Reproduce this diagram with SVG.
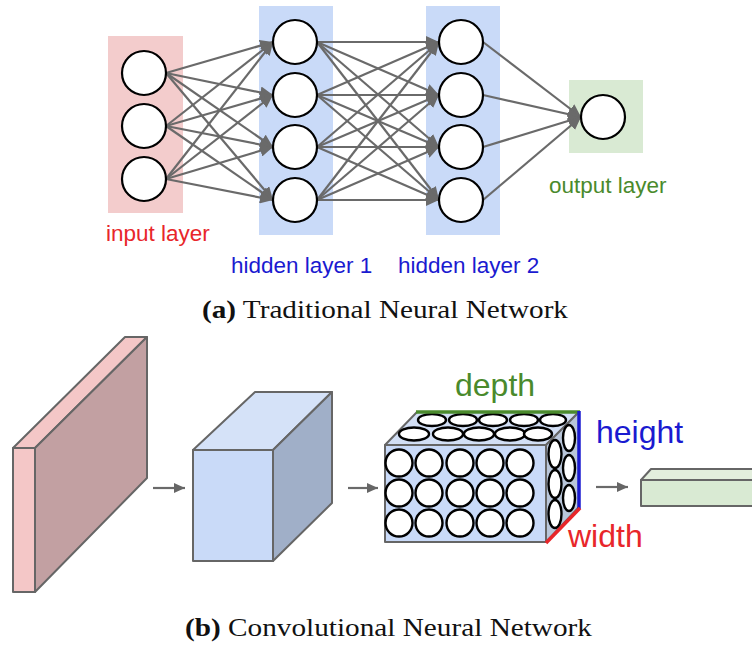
<svg xmlns="http://www.w3.org/2000/svg" width="752" height="652" viewBox="0 0 752 652">
<defs>
<style>
.n{fill:#fff;stroke:#000;stroke-width:2.2}
.e{stroke:#6a6a6a;stroke-width:2.2;fill:none}
.lbl{font-family:"Liberation Sans",Arial,sans-serif;font-size:22.5px}
.big{font-family:"Liberation Sans",Arial,sans-serif;font-size:32px}
.cap{font-family:"Liberation Serif","Times New Roman",serif;font-size:25px;fill:#111}
.box{stroke:#666;stroke-width:2;stroke-linejoin:round}
.c{fill:#fff;stroke:#000;stroke-width:2.4}
</style>
<marker id="ah" markerUnits="userSpaceOnUse" markerWidth="14" markerHeight="12" refX="13" refY="6" orient="auto">
<path d="M0,0 L13,6 L0,12 z" fill="#6a6a6a"/>
</marker>
<marker id="ah2" markerUnits="userSpaceOnUse" markerWidth="12" markerHeight="12" refX="11" refY="5" orient="auto">
<path d="M0,0 L11,5 L0,10 z" fill="#666"/>
</marker>
</defs>
<rect width="752" height="652" fill="#fff"/>

<g id="layer-backgrounds">
<rect id="input-bg" x="108" y="36" width="75" height="177" fill="#f3cccc"/>
<rect id="hidden1-bg" x="259" y="6" width="74" height="229" fill="#c9daf8"/>
<rect id="hidden2-bg" x="426" y="6" width="74" height="229" fill="#c9daf8"/>
<rect id="output-bg" x="569" y="80" width="74" height="73" fill="#d9ead3"/>
</g>

<g id="connectors">
<line class="e" x1="166" y1="73" x2="273" y2="42" marker-end="url(#ah)"/>
<line class="e" x1="166" y1="73" x2="273" y2="95" marker-end="url(#ah)"/>
<line class="e" x1="166" y1="73" x2="273" y2="147" marker-end="url(#ah)"/>
<line class="e" x1="166" y1="73" x2="273" y2="200" marker-end="url(#ah)"/>
<line class="e" x1="166" y1="126" x2="273" y2="42" marker-end="url(#ah)"/>
<line class="e" x1="166" y1="126" x2="273" y2="95" marker-end="url(#ah)"/>
<line class="e" x1="166" y1="126" x2="273" y2="147" marker-end="url(#ah)"/>
<line class="e" x1="166" y1="126" x2="273" y2="200" marker-end="url(#ah)"/>
<line class="e" x1="166" y1="179" x2="273" y2="42" marker-end="url(#ah)"/>
<line class="e" x1="166" y1="179" x2="273" y2="95" marker-end="url(#ah)"/>
<line class="e" x1="166" y1="179" x2="273" y2="147" marker-end="url(#ah)"/>
<line class="e" x1="166" y1="179" x2="273" y2="200" marker-end="url(#ah)"/>

<line class="e" x1="317" y1="42" x2="439" y2="42" marker-end="url(#ah)"/>
<line class="e" x1="317" y1="42" x2="439" y2="95" marker-end="url(#ah)"/>
<line class="e" x1="317" y1="42" x2="439" y2="147" marker-end="url(#ah)"/>
<line class="e" x1="317" y1="42" x2="439" y2="200" marker-end="url(#ah)"/>
<line class="e" x1="317" y1="95" x2="439" y2="42" marker-end="url(#ah)"/>
<line class="e" x1="317" y1="95" x2="439" y2="95" marker-end="url(#ah)"/>
<line class="e" x1="317" y1="95" x2="439" y2="147" marker-end="url(#ah)"/>
<line class="e" x1="317" y1="95" x2="439" y2="200" marker-end="url(#ah)"/>
<line class="e" x1="317" y1="147" x2="439" y2="42" marker-end="url(#ah)"/>
<line class="e" x1="317" y1="147" x2="439" y2="95" marker-end="url(#ah)"/>
<line class="e" x1="317" y1="147" x2="439" y2="147" marker-end="url(#ah)"/>
<line class="e" x1="317" y1="147" x2="439" y2="200" marker-end="url(#ah)"/>
<line class="e" x1="317" y1="200" x2="439" y2="42" marker-end="url(#ah)"/>
<line class="e" x1="317" y1="200" x2="439" y2="95" marker-end="url(#ah)"/>
<line class="e" x1="317" y1="200" x2="439" y2="147" marker-end="url(#ah)"/>
<line class="e" x1="317" y1="200" x2="439" y2="200" marker-end="url(#ah)"/>

<line class="e" x1="483" y1="42" x2="581" y2="117" marker-end="url(#ah)"/>
<line class="e" x1="483" y1="95" x2="581" y2="117" marker-end="url(#ah)"/>
<line class="e" x1="483" y1="147" x2="581" y2="117" marker-end="url(#ah)"/>
<line class="e" x1="483" y1="200" x2="581" y2="117" marker-end="url(#ah)"/>

<line class="e" x1="153" y1="488" x2="185" y2="488" marker-end="url(#ah2)"/>
<line class="e" x1="348" y1="488" x2="378" y2="488" marker-end="url(#ah2)"/>
<line class="e" x1="596" y1="487" x2="628" y2="487" marker-end="url(#ah2)"/>
</g>

<g id="input-layer">
<circle class="n" cx="144" cy="73" r="22"/>
<circle class="n" cx="144" cy="126" r="22"/>
<circle class="n" cx="144" cy="179" r="22"/>
<text class="lbl" x="106" y="241" fill="#e8262a">input layer</text>
</g>
<g id="hidden-layer-1">
<circle class="n" cx="295" cy="42" r="22"/>
<circle class="n" cx="295" cy="95" r="22"/>
<circle class="n" cx="295" cy="147" r="22"/>
<circle class="n" cx="295" cy="200" r="22"/>
<text class="lbl" x="231" y="273" fill="#1a1ad0">hidden layer 1</text>
</g>
<g id="hidden-layer-2">
<circle class="n" cx="461" cy="42" r="22"/>
<circle class="n" cx="461" cy="95" r="22"/>
<circle class="n" cx="461" cy="147" r="22"/>
<circle class="n" cx="461" cy="200" r="22"/>
<text class="lbl" x="398" y="273" fill="#1a1ad0">hidden layer 2</text>
</g>
<g id="output-layer">
<circle class="n" cx="603" cy="117" r="22"/>
<text class="lbl" x="549" y="193" fill="#4a8a2c">output layer</text>
</g>

<text id="caption-a" class="cap" x="202" y="318" textLength="366" lengthAdjust="spacingAndGlyphs"><tspan font-weight="bold">(a)</tspan> Traditional Neural Network</text>

<g id="input-slab">
<path class="box" d="M13,448 L125,337 L147,337 L35,448 Z" fill="#f4c7c7"/>
<path class="box" d="M35,448 L147,337 L147,478 L35,592 Z" fill="#c2a0a2"/>
<rect class="box" x="13" y="448" width="22" height="144" fill="#f4c7c7"/>
</g>

<g id="hidden-cube">
<path class="box" d="M193,450 L255,392 L332,392 L273,450 Z" fill="#d5e2f8"/>
<path class="box" d="M273,450 L332,392 L332,503 L273,561 Z" fill="#a0afc8"/>
<rect class="box" x="193" y="450" width="80" height="111" fill="#c9daf8"/>
</g>

<g id="conv-volume">
<path class="box" d="M385,445 L417,412 L579,412 L546,445 Z" fill="#d2dff5"/>
<path class="box" d="M546,445 L579,412 L579,507 L546,542 Z" fill="#b9c6da"/>
<rect class="box" x="385" y="445" width="161" height="97" fill="#c9daf8"/>
<g id="top-circles">
<ellipse class="c" cx="432" cy="420" rx="14" ry="6"/>
<ellipse class="c" cx="463" cy="420" rx="14" ry="6"/>
<ellipse class="c" cx="493" cy="420" rx="14" ry="6"/>
<ellipse class="c" cx="524" cy="420" rx="14" ry="6"/>
<ellipse class="c" cx="553" cy="420" rx="13" ry="6"/>
<ellipse class="c" cx="414" cy="434" rx="15" ry="6.5"/>
<ellipse class="c" cx="448" cy="434" rx="15" ry="6.5"/>
<ellipse class="c" cx="479" cy="434" rx="15" ry="6.5"/>
<ellipse class="c" cx="510" cy="434" rx="15" ry="6.5"/>
<ellipse class="c" cx="538" cy="434" rx="14" ry="6.5"/>
</g>
<g id="side-circles">
<ellipse class="c" cx="569" cy="438" rx="6" ry="13"/>
<ellipse class="c" cx="569" cy="468" rx="6" ry="13"/>
<ellipse class="c" cx="569" cy="498" rx="6" ry="13"/>
<ellipse class="c" cx="555" cy="454" rx="6.5" ry="14"/>
<ellipse class="c" cx="555" cy="484" rx="6.5" ry="14"/>
<ellipse class="c" cx="555" cy="514" rx="6.5" ry="14"/>
</g>
<g id="front-circles">
<circle class="c" cx="399" cy="463" r="13.5"/>
<circle class="c" cx="429" cy="463" r="13.5"/>
<circle class="c" cx="460" cy="463" r="13.5"/>
<circle class="c" cx="490" cy="463" r="13.5"/>
<circle class="c" cx="520" cy="463" r="13.5"/>
<circle class="c" cx="399" cy="493" r="13.5"/>
<circle class="c" cx="429" cy="493" r="13.5"/>
<circle class="c" cx="460" cy="493" r="13.5"/>
<circle class="c" cx="490" cy="493" r="13.5"/>
<circle class="c" cx="520" cy="493" r="13.5"/>
<circle class="c" cx="399" cy="523" r="13.5"/>
<circle class="c" cx="429" cy="523" r="13.5"/>
<circle class="c" cx="460" cy="523" r="13.5"/>
<circle class="c" cx="490" cy="523" r="13.5"/>
<circle class="c" cx="520" cy="523" r="13.5"/>
</g>
<line x1="416" y1="412" x2="580" y2="412" stroke="#4a8a2c" stroke-width="3.5"/>
<line x1="579" y1="411" x2="579" y2="509" stroke="#1a1ad0" stroke-width="3.5"/>
<line x1="580" y1="508" x2="546" y2="543" stroke="#e8262a" stroke-width="3.5"/>
<text class="big" x="455" y="396" fill="#4a8a2c">depth</text>
<text class="big" x="596" y="443" fill="#1a1ad0">height</text>
<text class="big" x="568" y="547" fill="#e8262a">width</text>
</g>

<g id="output-slab">
<path class="box" d="M641,480 L651,469 L760,469 L760,480 Z" fill="#e3eedd"/>
<rect class="box" x="641" y="480" width="120" height="26" fill="#d9ead3"/>
</g>

<text id="caption-b" class="cap" x="185" y="636" textLength="407" lengthAdjust="spacingAndGlyphs"><tspan font-weight="bold">(b)</tspan> Convolutional Neural Network</text>
</svg>
